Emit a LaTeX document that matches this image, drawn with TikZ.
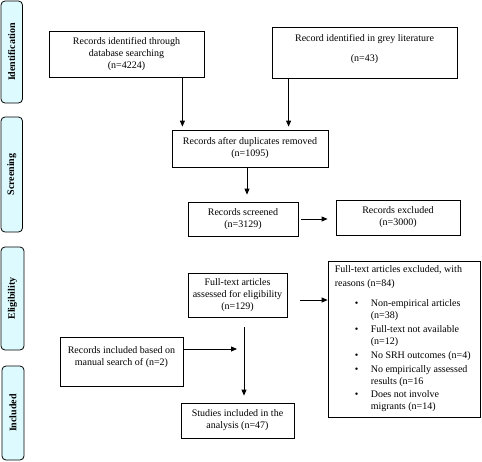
\documentclass[tikz,border=0pt]{standalone}
\usepackage{fontspec}
\setmainfont{Liberation Serif}
\usetikzlibrary{arrows.meta}
\definecolor{phase}{RGB}{221,251,255}
\begin{document}
\begin{tikzpicture}[x=1pt,y=-1pt,
 box/.style={draw, line width=0.8pt, align=center, inner sep=2pt, font=\fontsize{10}{12}\selectfont},
 phasebox/.style={draw, line width=0.8pt, fill=phase, rounded corners=4pt, rotate=90, font=\fontsize{10}{12}\selectfont\bfseries, inner sep=0pt},
 arr/.style={line width=0.8pt, -{Triangle[length=6pt,width=5pt]}},
]
\useasboundingbox (0,0) rectangle (482,461);

% phase labels
\node[phasebox, minimum width=102pt, minimum height=21.5pt] (ident) at (11.75,52) {Identification};
\node[phasebox, minimum width=115pt, minimum height=21.5pt] (screen) at (11.75,174.5) {Screening};
\node[phasebox, minimum width=103pt, minimum height=23pt] (elig) at (12.5,298.5) {Eligibility};
\node[phasebox, minimum width=94pt, minimum height=22pt] (incl) at (13,413) {Included};

% boxes
\node[box, minimum width=155pt, minimum height=46pt] (db) at (126.5,54) {Records identified through\\database searching\\(n=4224)};
\node[box, minimum width=185pt, minimum height=51pt] (grey) at (364.5,52.5) {Record identified in grey literature\\[8pt](n=43)\\[-6pt]\strut};
\node[box, minimum width=156pt, minimum height=37pt] (dup) at (250,148.5) {Records after duplicates removed\\(n=1095)};
\node[box, minimum width=110pt, minimum height=34pt] (screened) at (243,219) {Records screened\\(n=3129)};
\node[box, minimum width=124pt, minimum height=35pt] (excluded) at (398,217.5) {Records excluded\\(n=3000)};
\node[box, minimum width=99pt, minimum height=44pt] (full) at (237.5,295) {Full-text articles\\assessed for eligibility\\(n=129)};
\node[box, minimum width=152pt, minimum height=156pt] (reasons) at (404,339) {};
\node[anchor=north west, inner sep=0pt, font=\fontsize{10}{12}\selectfont] (reasonstext) at ([shift={(7pt,-3pt)}]reasons.north west) {%
\begin{tabular}{@{}p{20pt}@{}p{16pt}@{}l@{}}
\multicolumn{3}{@{}l@{}}{Full-text articles excluded, with}\\[2pt]
\multicolumn{3}{@{}l@{}}{reasons (n=84)}\\[8pt]
& \textbullet & Non-empirical articles\\
& & (n=38)\\[2pt]
& \textbullet & Full-text not available\\
& & (n=12)\\[2pt]
& \textbullet & No SRH outcomes (n=4)\\[2pt]
& \textbullet & No empirically assessed\\
& & results (n=16\\[1pt]
& \textbullet & Does not involve\\
& & migrants (n=14)
\end{tabular}};
\node[box, minimum width=123pt, minimum height=49pt] (manual) at (121.5,361.5) {Records included based on\\manual search of (n=2)\\[-4pt]\strut};
\node[box, minimum width=113pt, minimum height=35pt] (studies) at (237.5,420.5) {Studies included in the\\analysis (n=47)};

% connectors
\draw[arr, shorten >=3pt] ([xshift=-22pt]db.south east) -- ([xshift=-22pt]db.south east |- dup.north);
\draw[arr, shorten >=3pt] ([xshift=17pt]grey.south west) -- ([xshift=17pt]grey.south west |- dup.north);
\draw[arr, shorten >=7pt] ([xshift=-3pt]dup.south) -- ([xshift=-3pt]dup.south |- screened.north);
\draw[arr, shorten <=3pt, shorten >=8pt] (screened.east) -- (screened.east -| excluded.west);
\draw[arr, shorten <=13pt] ([yshift=-5pt]full.east) -- ([yshift=-5pt]full.east -| reasons.west);
\coordinate (join) at ([xshift=6.5pt]full.south);
\draw[arr, shorten <=10pt, shorten >=7pt] (join) -- (join |- studies.north);
\draw[arr, shorten >=7pt] ([yshift=12.5pt]manual.east) -- ([yshift=12.5pt]manual.east -| join);
\end{tikzpicture}
\end{document}
